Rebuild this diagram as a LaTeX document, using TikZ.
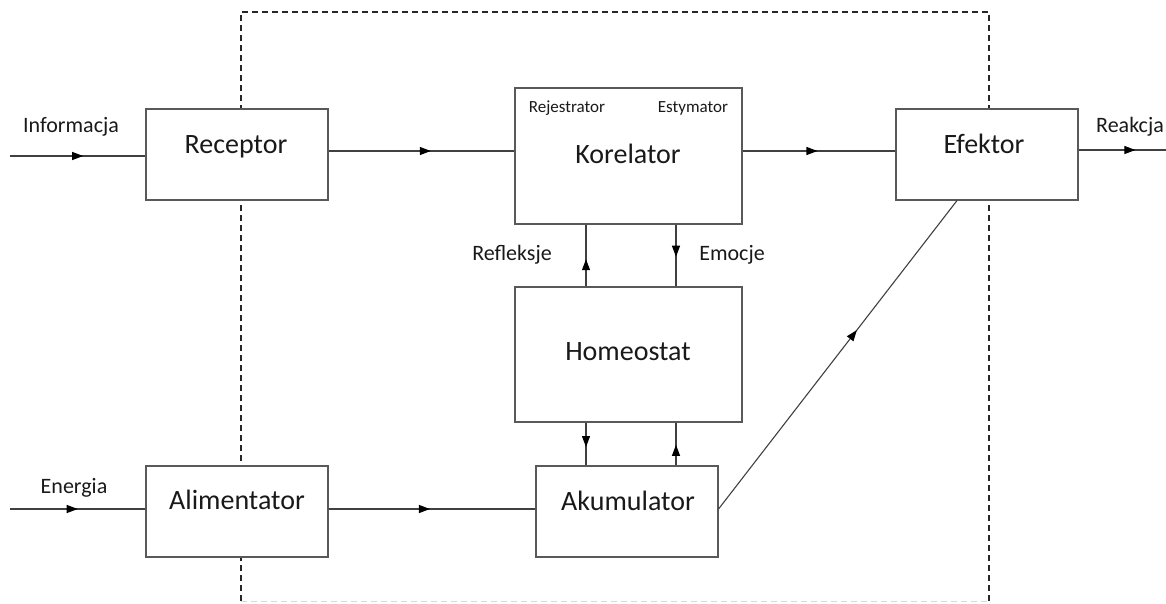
\documentclass[tikz,border=0pt]{standalone}
\usepackage{fontspec}
\setmainfont{Carlito}
\usetikzlibrary{arrows.meta,decorations.markings}
\begin{document}
\begin{tikzpicture}[x=1pt,y=-1pt,
  box/.style={draw=black!65,line width=1.1pt,fill=white,rectangle,inner sep=0pt},
  big/.style={font=\fontsize{28}{30}\selectfont,anchor=base,inner sep=0pt,text=black!90},
  lab/.style={font=\fontsize{22}{24}\selectfont,anchor=base,inner sep=0pt,text=black!90},
  small/.style={font=\fontsize{17}{19}\selectfont,anchor=base,inner sep=0pt,text=black!90},
  conn/.style={draw=black!75,line width=1.1pt},
  midarrow/.style={postaction={decorate},decoration={markings,mark=at position #1 with {\arrow[black]{Triangle[length=11pt,width=8pt]}}}},
  frame/.style={draw=black!85,line width=1.1pt,dash pattern=on 6pt off 4pt}
]
\useasboundingbox (0,0) rectangle (1166,603);
% dashed system border
\draw[frame] (241,601) -- (241,12) -- (989,12) -- (989,601);
\draw[draw=black!15,line width=1pt,dash pattern=on 6pt off 4pt] (241,601) -- (989,601);

% boxes
\node[box,minimum width=182pt,minimum height=91pt] (rec) at (237,154.5) {};
\node[box,minimum width=227pt,minimum height=136pt] (kor) at (628.5,156) {};
\node[box,minimum width=182pt,minimum height=91pt] (efe) at (987,154.5) {};
\node[box,minimum width=227pt,minimum height=135pt] (hom) at (628.5,354.5) {};
\node[box,minimum width=182pt,minimum height=91pt] (ali) at (237,511.5) {};
\node[box,minimum width=182pt,minimum height=91pt] (aku) at (627,511.5) {};

% box texts
\node[big] (trec) at (236,153) {Receptor};
\node[big] (tkor) at (628,163) {Korelator};
\node[big] (tefe) at (984,153) {Efektor};
\node[big] (thom) at (628,360) {Homeostat};
\node[big] (tali) at (237,509) {Alimentator};
\node[big] (taku) at (628,510) {Akumulator};
\node[small] (trej) at (567,112) {Rejestrator};
\node[small] (test) at (693,112) {Estymator};

% labels
\node[lab] (linf) at (71,132) {Informacja};
\node[lab] (lrea) at (1130,132) {Reakcja};
\node[lab] (lene) at (74,493) {Energia};
\node[lab] (lref) at (512,260) {Refleksje};
\node[lab] (lemo) at (732,260) {Emocje};

% helper coordinates
\coordinate (inL) at (10,156);
\coordinate (outR) at (1166,150);
\coordinate (enL) at (10,509);
\coordinate (xL) at (586,0);
\coordinate (xR) at (676,0);
\coordinate (yTop) at (0,151);
\coordinate (yBot) at (0,509);
\coordinate (xDiag) at (957,0);

% connectors
\draw[conn,midarrow=0.54] (inL) -- (rec.west |- inL);
\draw[conn,midarrow=0.55] (rec.east |- yTop) -- (kor.west |- yTop);
\draw[conn,midarrow=0.49] (kor.east |- yTop) -- (efe.west |- yTop);
\draw[conn,midarrow=0.65] (efe.east |- outR) -- (outR);
\draw[conn,midarrow=0.5] (enL) -- (ali.west |- enL);
\draw[conn,midarrow=0.49] (ali.east |- yBot) -- (aku.west |- yBot);
\draw[conn,midarrow=0.58] (aku.east |- yBot) -- (efe.south -| xDiag);
\draw[conn,midarrow=0.44] (hom.north -| xL) -- (kor.south -| xL);
\draw[conn,midarrow=0.52] (kor.south -| xR) -- (hom.north -| xR);
\draw[conn,midarrow=0.57] (hom.south -| xL) -- (aku.north -| xL);
\draw[conn,midarrow=0.48] (aku.north -| xR) -- (hom.south -| xR);
\end{tikzpicture}
\end{document}
